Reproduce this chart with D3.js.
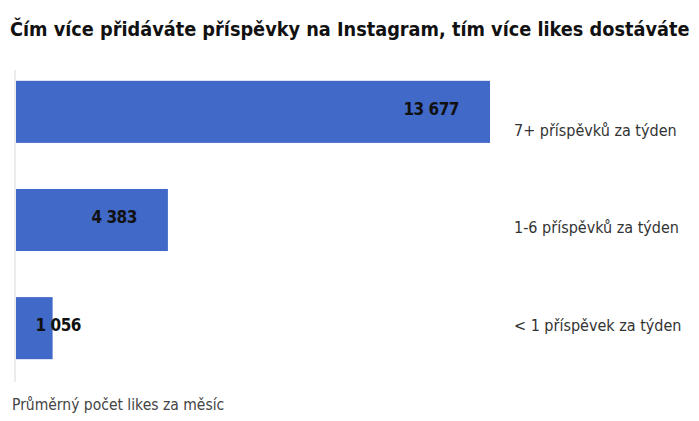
<!DOCTYPE html>
<html>
<head>
<meta charset="utf-8">
<script src="https://cdn.jsdelivr.net/npm/d3@7"></script>
<style>
  body { margin: 0; background: #fff; }
  svg text { font-family: "Liberation Sans Narrow", "DejaVu Sans Condensed", sans-serif; }
</style>
</head>
<body>
<div id="chart"></div>
<script>
// data
const categories = ["7+ příspěvků za týden", "1-6 příspěvků za týden", "< 1 příspěvek za týden"];
const likes = [13677, 4383, 1056];
const valueLabels = ["13 677", "4 383", "1 056"];
const title = "Čím více přidáváte příspěvky na Instagram, tím více likes dostáváte";
const footnote = "Průměrný počet likes za měsíc";

const width = 699, height = 421;

const svg = d3.select("#chart")
    .append("svg")
    .attr("width", width)
    .attr("height", height);

const rows = categories.map((c, i) => ({ cat: c, value: likes[i], label: valueLabels[i] }));

const x = d3.scaleLinear()
    .domain([0, d3.max(likes)])
    .range([16, 490]);

const y = d3.scaleBand()
    .domain(categories)
    .range([70, 370])
    .paddingInner(0.426)
    .paddingOuter(0.1);

// the category labels sit a bit off the bar centres in the original
const yLabel = d3.scalePoint()
    .domain(categories)
    .range([130, 325]);

const titleText = svg.append("text")
    .attr("x", 10)
    .attr("y", 36)
    .style("font-size", "20px")
    .style("font-weight", "bold")
    .attr("fill", "#111")
    .text(title);

// squeeze the title to fit the width if the fallback font runs wide
const tw = titleText.node().getComputedTextLength();
if (tw > 680) titleText.style("font-size", (20 * 680 / tw).toFixed(2) + "px");

// baseline
svg.append("line")
    .attr("x1", 15).attr("x2", 15)
    .attr("y1", 70).attr("y2", 382)
    .attr("stroke", "#ececec")
    .attr("stroke-width", 2);

svg.selectAll(".bar")
    .data(rows)
    .join("rect")
    .attr("class", "bar")
    .attr("x", x(0))
    .attr("y", d => y(d.cat))
    .attr("width", d => x(d.value) - x(0))
    .attr("height", y.bandwidth())
    .attr("fill", "#4169c8");

svg.selectAll(".value")
    .data(rows)
    .join("text")
    .attr("class", "value")
    .attr("text-anchor", "end")
    .attr("x", d => Math.max(x(d.value) - 31, x(0) + 65))
    .attr("y", d => y(d.cat) + y.bandwidth() / 2 - 3)
    .attr("dy", "0.35em")
    .style("font-size", "17px")
    .style("font-weight", "bold")
    .style("letter-spacing", "-0.5px")
    .attr("fill", "#111")
    .text(d => d.label);

svg.selectAll(".cat")
    .data(rows)
    .join("text")
    .attr("class", "cat")
    .attr("x", 514)
    .attr("y", d => yLabel(d.cat))
    .attr("dy", "0.35em")
    .style("font-size", "16px")
    .attr("fill", "#333")
    .text(d => d.cat);

svg.append("text")
    .attr("x", 12)
    .attr("y", 405)
    .attr("dy", "0.35em")
    .style("font-size", "15.5px")
    .attr("fill", "#444")
    .text(footnote);
</script>
</body>
</html>
